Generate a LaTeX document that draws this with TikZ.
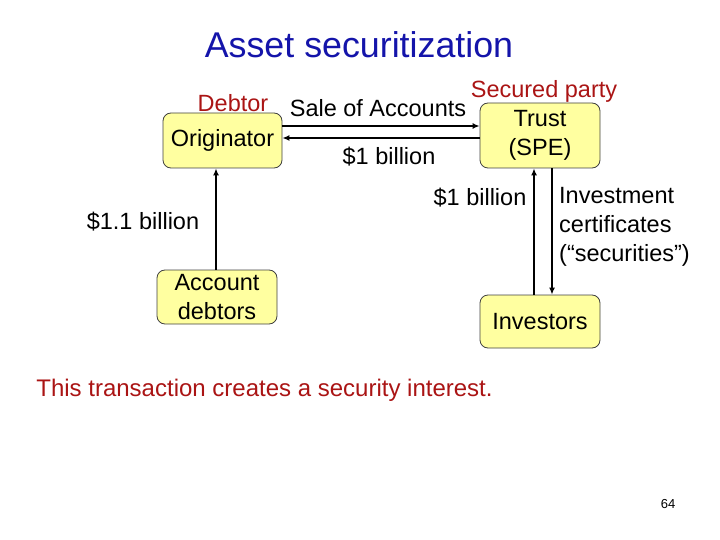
\documentclass[tikz,border=0pt]{standalone}
\usepackage{fontspec}
\setmainfont{Liberation Sans}
\usetikzlibrary{arrows.meta}
\definecolor{boxfill}{RGB}{255,255,160}
\definecolor{titleblue}{RGB}{20,20,170}
\definecolor{labelred}{RGB}{170,20,20}
\tikzset{
  box/.style={draw=black!75, line width=0.8pt, fill=boxfill, rounded corners=8pt, align=center, inner sep=0pt,
    font=\fontsize{23.5}{28.5}\selectfont},
  txt/.style={inner sep=0pt, font=\fontsize{23.5}{29}\selectfont},
  arr/.style={line width=1.6pt, -{Latex[length=7pt,width=6pt]}}
}
\begin{document}
\begin{tikzpicture}[x=1pt,y=-1pt]
\useasboundingbox (0,0) rectangle (720,540);
\node[txt, font=\fontsize{35.8}{40}\selectfont, text=titleblue] (title) at (359,45) {Asset securitization};
\node[box, minimum width=119pt, minimum height=55pt] (orig) at (222.5,140.5) {Originator};
\node[box, minimum width=120pt, minimum height=65pt] (trust) at (540,135.5) {Trust\\(SPE)};
\node[box, minimum width=120pt, minimum height=54pt] (acct) at (217,297) {Account\\debtors};
\node[box, minimum width=120pt, minimum height=53pt] (inv) at (540,321.5) {Investors};
\node[txt, text=labelred] (debtor) at (233,103) {Debtor};
\node[txt, text=labelred] (secured) at (544,91) {Secured party};
\node[txt] (sale) at (378,108) {Sale of Accounts};
\node[txt] (bil1) at (389,157) {\$1 billion};
\node[txt] (bil2) at (480,198) {\$1 billion};
\node[txt] (bil11) at (143,222) {\$1.1 billion};
\node[txt, anchor=west, align=left] (cert) at (559,227) {Investment\\certificates\\(“securities”)};
\node[txt, font=\fontsize{24}{29}\selectfont, text=labelred] (note) at (264.5,390) {This transaction creates a security interest.};
\node[inner sep=0pt, font=\fontsize{13}{15}\selectfont] (page) at (668,504) {64};
\draw[arr] (orig.east |- 0,126) -- (trust.west |- 0,126);
\draw[arr] (trust.west |- 0,138) -- (orig.east |- 0,138);
\draw[arr] (acct.north -| 216,0) -- (orig.south -| 216,0);
\draw[arr] (inv.north -| 534,0) -- (trust.south -| 534,0);
\draw[arr] (trust.south -| 552,0) -- (inv.north -| 552,0);
\end{tikzpicture}
\end{document}
